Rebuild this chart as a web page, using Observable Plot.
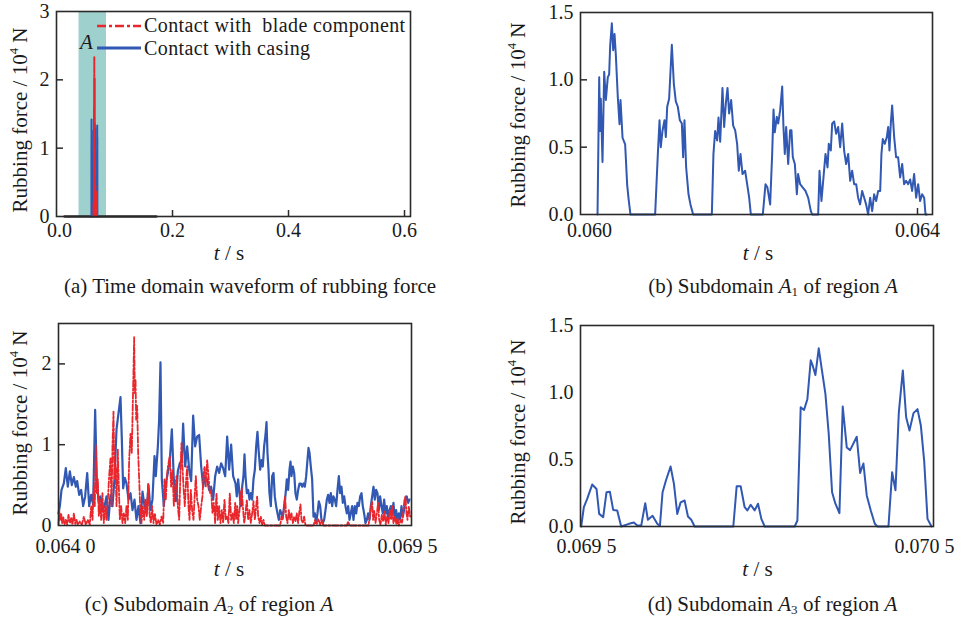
<!DOCTYPE html>
<html><head><meta charset="utf-8">
<script src="https://cdn.jsdelivr.net/npm/d3@7"></script>
<script src="https://cdn.jsdelivr.net/npm/@observablehq/plot@0.6"></script>
<style>
body{margin:0;background:#fff;}
#wrap{position:relative;width:963px;height:622px;overflow:hidden;background:#fff;font-family:"Liberation Serif",serif;color:#1a1a1a;}
#wrap svg{position:absolute;}
.lbl{position:absolute;white-space:pre;line-height:1;font-size:21px;transform:translate(-50%,-50%);}
.rot{transform:translate(-50%,-50%) rotate(-90deg);}
.abs{position:absolute;white-space:pre;line-height:1;font-size:21px;}
.leg{position:absolute;white-space:pre;line-height:1;font-size:20px;letter-spacing:0.4px;}
sup{font-size:0.6em;vertical-align:0.65em;line-height:0;}
sub{font-size:0.62em;vertical-align:-0.3em;line-height:0;}
</style>
</head><body>
<div id="wrap"></div>
<script>
// ---------------- DATA ----------------
// Panel (b): contact with casing, subdomain A1  [t (s), force (10^4 N)]
const casingA1 = [
[0.060202,0],[0.060222,1.02],[0.060233,0.62],[0.060241,0.86],[0.060261,0.39],[0.060281,1.06],[0.060301,0.85],[0.060324,1.02],[0.060340,1.04],[0.060352,1.25],[0.060372,1.42],[0.060388,1.22],[0.060404,1.34],[0.060419,1.19],[0.060443,0.87],[0.060463,0.67],[0.060475,0.85],[0.060499,0.57],[0.060530,0.52],[0.060554,0.22],[0.060570,0.12],[0.060593,0],
[0.060886,0],[0.060918,0.45],[0.060938,0.70],[0.060953,0.50],[0.060973,0.62],[0.060997,0.70],[0.061013,0.575],[0.061029,0.80],[0.061052,0.86],[0.061084,1.26],[0.061108,0.97],[0.061131,0.84],[0.061155,0.80],[0.061179,0.70],[0.061203,0.675],[0.061218,0.425],[0.061234,0.70],[0.061254,0.35],[0.061282,0.15],[0.061305,0.075],[0.061337,0],
[0.061559,0],[0.061578,0.45],[0.061598,0.62],[0.061622,0.55],[0.061638,0.72],[0.061658,0.54],[0.061685,0.94],[0.061705,0.65],[0.061725,0.825],[0.061745,0.94],[0.061764,0.75],[0.061788,0.85],[0.061812,0.66],[0.061836,0.625],[0.061859,0.525],[0.061879,0.325],[0.061899,0.45],[0.061923,0.30],[0.061954,0.325],[0.061978,0.225],[0.062002,0.125],[0.062022,0],
[0.062164,0],[0.062196,0.225],[0.062219,0.20],[0.062251,0.075],[0.062275,0.45],[0.062291,0.78],[0.062306,0.61],[0.062330,0.725],[0.062346,0.675],[0.062370,0.775],[0.062394,0.95],[0.062409,0.65],[0.062425,0.45],[0.062441,0.65],[0.062465,0.375],[0.062488,0.625],[0.062504,0.625],[0.062520,0.425],[0.062544,0.375],[0.062568,0.15],[0.062583,0.30],[0.062607,0.225],[0.062639,0.20],[0.062670,0.175],[0.062702,0.125],[0.062734,0.025],[0.062750,0],
[0.062821,0],[0.062837,0.325],[0.062860,0.10],[0.062884,0.275],[0.062908,0.45],[0.062932,0.35],[0.062947,0.525],[0.062971,0.475],[0.062987,0.675],[0.063011,0.69],[0.063034,0.60],[0.063058,0.65],[0.063082,0.50],[0.063106,0.675],[0.063129,0.475],[0.063153,0.375],[0.063177,0.45],[0.063201,0.25],[0.063224,0.325],[0.063248,0.225],[0.063272,0.225],[0.063295,0.125],[0.063319,0.075],[0.063343,0.175],[0.063367,0.125],[0.063390,0.075],[0.063414,0],[0.063438,0.125],[0.063462,0.025],[0.063485,0.15],[0.063509,0.10],[0.063533,0.175],
[0.063557,0.175],[0.063572,0.45],[0.063588,0.56],[0.063612,0.525],[0.063636,0.575],[0.063652,0.65],[0.063667,0.475],[0.063683,0.675],[0.063699,0.81],[0.063723,0.575],[0.063746,0.425],[0.063770,0.425],[0.063794,0.275],[0.063818,0.375],[0.063841,0.225],[0.063865,0.25],[0.063889,0.225],[0.063913,0.26],[0.063936,0.175],[0.063960,0.30],[0.063984,0.125],[0.064008,0.225],[0.064031,0.10],[0.064055,0.15],[0.064079,0.125],[0.064095,0],[0.064110,0]
];
// Panel (c): contact with casing, subdomain A2
const casingA2 = [
[0.064000,0.15],[0.064021,0.24],[0.064047,0.44],[0.064083,0.52],[0.064114,0.71],[0.064145,0.48],[0.064177,0.67],[0.064208,0.50],[0.064239,0.60],[0.064270,0.48],[0.064291,0.55],[0.064322,0.38],[0.064353,0.44],[0.064384,0.24],[0.064415,0.36],[0.064447,0.65],[0.064478,0.24],[0.064509,0.38],[0.064540,0.26],[0.064571,1.43],[0.064597,0.57],[0.064623,0.30],[0.064654,0.36],[0.064685,0.19],[0.064717,0.24],[0.064748,0.36],[0.064779,0.07],[0.064810,0.38],[0.064841,0.24],[0.064872,0.57],[0.064904,1.19],[0.064935,1.39],[0.064966,1.59],[0.064987,1.06],[0.065007,0.46],[0.065033,0.59],[0.065059,0.52],[0.065091,0.32],[0.065122,0.40],[0.065153,0.19],[0.065184,0.32],[0.065215,0.07],[0.065246,0.24],[0.065277,0.03],[0.065309,0.42],[0.065340,0.24],[0.065371,0.15],[0.065402,0.50],[0.065433,0.19],[0.065464,0.32],[0.065496,0.86],[0.065516,0.61],[0.065548,0.98],[0.065568,1.31],[0.065589,2.02],[0.065610,0.57],[0.065641,0.24],[0.065672,0.52],[0.065703,0.65],[0.065734,0.81],[0.065766,1.19],[0.065797,0.57],[0.065828,0.30],[0.065859,0.67],[0.065890,0.77],[0.065921,0.81],[0.065942,1.26],[0.065973,0.73],[0.066005,0.98],[0.066036,0.69],[0.066067,0.55],[0.066098,1.36],[0.066129,0.98],[0.066160,1.10],[0.066191,1.12],[0.066223,0.73],[0.066254,0.48],[0.066285,0.61],[0.066316,0.57],[0.066347,0.44],[0.066378,0.48],[0.066410,0.32],[0.066441,0.61],[0.066472,0.73],[0.066503,0.65],[0.066534,0.77],[0.066565,0.71],[0.066597,0.61],[0.066628,1.10],[0.066659,0.69],[0.066690,1.00],[0.066721,0.61],
[0.066758,0.52],[0.066778,0.36],[0.066799,0.57],[0.066820,0.40],[0.066841,0.24],[0.066862,0.48],[0.066882,0.61],[0.066898,0.88],[0.066914,0.61],[0.066934,0.40],[0.066955,0.44],[0.066976,0.32],[0.066997,0.40],[0.067017,0.32],[0.067038,0.57],[0.067059,0.69],[0.067080,0.98],[0.067100,1.16],[0.067121,0.90],[0.067142,0.69],[0.067163,0.81],[0.067183,0.73],[0.067204,0.98],[0.067225,1.12],[0.067241,1.28],[0.067256,0.90],[0.067272,0.69],[0.067287,0.40],[0.067308,0.24],[0.067329,0.61],[0.067350,0.65],[0.067370,0.36],[0.067391,0.24],[0.067412,0.15],[0.067433,0.07],[0.067454,0.19],[0.067474,0.15],[0.067495,0.11],[0.067516,0.24],[0.067537,0.38],[0.067557,0.57],[0.067578,0.44],[0.067599,0.69],[0.067615,0.79],[0.067630,0.61],[0.067651,0.73],[0.067672,0.65],[0.067692,0.40],[0.067713,0.32],[0.067734,0.44],[0.067755,0.52],[0.067776,0.52],[0.067796,0.48],[0.067817,0.52],[0.067838,0.48],[0.067859,0.61],[0.067879,0.81],[0.067895,0.96],[0.067911,0.90],[0.067931,0.73],[0.067952,0.57],[0.067973,0.11],[0.067994,0.15],[0.068014,0.03],[0.068035,0.15],[0.068056,0.30],[0.068077,0.24],[0.068097,0.07],[0.068118,0.03],[0.068139,0.07],[0.068160,0.19],[0.068181,0.32],[0.068201,0.38],[0.068222,0.28],[0.068243,0.40],[0.068264,0.24],[0.068284,0.36],[0.068305,0.32],[0.068326,0.24],[0.068347,0.44],[0.068368,0.61],[0.068388,0.40],[0.068409,0.48],[0.068430,0.28],[0.068451,0.36],[0.068471,0.24],[0.068492,0.15],[0.068513,0.24],[0.068534,0.07],[0.068554,0.15],[0.068575,0.24],[0.068596,0.07],[0.068617,0.24],[0.068638,0.15],[0.068658,0.28],[0.068679,0.24],[0.068700,0.36],[0.068721,0.40],[0.068741,0.24],[0.068762,0.15],[0.068783,0.03],[0.068804,0.07],[0.068824,0.15],[0.068845,0.07],[0.068866,0.24],[0.068887,0.36],[0.068908,0.48],[0.068928,0.32],[0.068949,0.44],[0.068970,0.40],[0.068991,0.19],[0.069011,0.36],[0.069032,0.24],[0.069053,0.15],[0.069074,0.32],[0.069095,0.15],[0.069115,0.24],[0.069136,0.07],[0.069157,0.19],[0.069178,0.24],[0.069198,0.15],[0.069219,0.28],[0.069240,0.07],[0.069261,0.19],[0.069281,0.03],[0.069302,0.15],[0.069323,0.07],[0.069344,0.24],[0.069365,0.11],[0.069385,0.19],[0.069406,0.32],[0.069427,0.36],[0.069448,0.28],[0.069468,0.32]
];
// Panel (c): contact with blade component, subdomain A2
const bladeA2 = [
[0.064000,0.01],[0.064010,0.19],[0.064026,0.07],[0.064042,0.15],[0.064057,0.03],[0.064073,0.11],[0.064093,0.01],[0.064114,0.07],[0.064135,0.01],[0.064156,0.13],[0.064177,0.03],[0.064197,0.09],[0.064218,0.01],[0.064239,0.15],[0.064260,0.02],[0.064280,0.07],[0.064301,0.01],[0.064332,0.05],[0.064364,0.01],[0.064395,0.11],[0.064426,0.01],[0.064457,0.07],[0.064488,0.01],[0.064509,0.24],[0.064530,0.07],[0.064550,0.48],[0.064566,0.24],[0.064582,1.00],[0.064597,0.40],[0.064613,0.57],[0.064628,0.11],[0.064644,0.32],[0.064665,0.07],[0.064685,0.40],[0.064706,0.03],[0.064727,0.24],[0.064748,0.07],[0.064769,0.32],[0.064789,0.61],[0.064810,0.83],[0.064826,0.24],[0.064841,0.98],[0.064857,1.41],[0.064872,0.57],[0.064888,0.73],[0.064904,0.24],[0.064924,0.94],[0.064940,0.48],[0.064956,0.07],[0.064976,0.24],[0.064997,0.03],[0.065018,0.15],[0.065039,0.03],[0.065059,0.24],[0.065080,0.07],[0.065101,0.81],[0.065122,1.14],[0.065142,0.90],[0.065158,1.52],[0.065168,1.89],[0.065179,2.33],[0.065189,1.64],[0.065200,1.81],[0.065210,1.31],[0.065226,1.48],[0.065241,0.90],[0.065257,0.57],[0.065272,0.24],[0.065293,0.03],[0.065314,0.24],[0.065335,0.07],[0.065355,0.32],[0.065376,0.11],[0.065397,0.52],[0.065418,0.15],[0.065438,0.03],[0.065459,0.24],[0.065480,0.03],[0.065501,0.15],[0.065527,0.01],[0.065553,0.07],[0.065579,0.01],[0.065605,0.11],[0.065631,0.03],[0.065651,0.57],[0.065672,0.32],[0.065693,0.65],[0.065714,0.77],[0.065734,0.86],[0.065755,0.48],[0.065776,0.69],[0.065797,0.24],[0.065818,0.48],[0.065838,0.61],[0.065859,0.24],[0.065880,0.07],[0.065901,0.69],[0.065916,1.02],[0.065932,0.73],[0.065947,0.48],[0.065968,0.24],[0.065989,0.57],[0.066005,0.73],[0.066025,0.24],[0.066041,0.07],[0.066062,0.44],[0.066082,0.19],[0.066103,0.07],[0.066124,0.40],[0.066140,0.61],[0.066160,0.32],[0.066181,0.24],[0.066202,0.07],[0.066223,0.24],[0.066243,0.36],[0.066259,0.61],[0.066275,0.73],[0.066295,0.48],[0.066316,0.81],[0.066337,0.61],[0.066358,0.40],[0.066378,0.44],[0.066399,0.15],[0.066420,0.28],[0.066441,0.03],[0.066461,0.40],[0.066482,0.07],[0.066503,0.24],[0.066524,0.03],[0.066545,0.19],[0.066565,0.03],[0.066586,0.32],[0.066607,0.07],[0.066628,0.11],[0.066648,0.03],[0.066669,0.40],[0.066690,0.07],[0.066711,0.15],[0.066732,0.03],
[0.066753,0.28],[0.066768,0.07],[0.066784,0.24],[0.066799,0.03],[0.066820,0.19],[0.066841,0.40],[0.066856,0.46],[0.066872,0.24],[0.066893,0.03],[0.066914,0.15],[0.066934,0.32],[0.066955,0.07],[0.066976,0.19],[0.066997,0.03],[0.067017,0.15],[0.067038,0.30],[0.067059,0.07],[0.067080,0.24],[0.067095,0.36],[0.067111,0.11],[0.067132,0.03],[0.067152,0.11],[0.067173,0.01],[0.067194,0.07],[0.067215,0],[0.067454,0],[0.067474,0.11],[0.067495,0.07],[0.067516,0.24],[0.067531,0.36],[0.067547,0.11],[0.067568,0.03],[0.067589,0.19],[0.067609,0.07],[0.067630,0.15],[0.067651,0.03],[0.067672,0.11],[0.067692,0.05],[0.067713,0.15],[0.067734,0.03],[0.067755,0.19],[0.067770,0.26],[0.067786,0.07],[0.067807,0.03],[0.067827,0.11],[0.067848,0],[0.067973,0],[0.067999,0.07],[0.068025,0.02],[0.068051,0.08],[0.068077,0.01],[0.068103,0.07],[0.068129,0],[0.068492,0],[0.068513,0.05],[0.068534,0],[0.068830,0],[0.068856,0.15],[0.068871,0.24],[0.068887,0.30],[0.068902,0.07],[0.068918,0.19],[0.068939,0.03],[0.068960,0.15],[0.068980,0.28],[0.068996,0.07],[0.069017,0.01],[0.069037,0.13],[0.069058,0.05],[0.069079,0.17],[0.069100,0.01],[0.069121,0.11],[0.069141,0.03],[0.069162,0.19],[0.069183,0.07],[0.069198,0.24],[0.069219,0.03],[0.069240,0.11],[0.069261,0.02],[0.069281,0.09],[0.069302,0],[0.069333,0.07],[0.069354,0.03],[0.069375,0.19],[0.069391,0.32],[0.069406,0.36],[0.069422,0.15],[0.069437,0.07],[0.069458,0.24],[0.069479,0.11]
];
// Panel (d): contact with casing, subdomain A3
const casingA3 = [
[0.0695019,0],[0.0695095,0.144],[0.0695189,0.206],[0.0695331,0.313],[0.0695454,0.28],[0.0695529,0.094],[0.0695643,0.07],[0.0695737,0.256],[0.0695832,0.26],[0.0695926,0.124],[0.0696040,0.12],[0.0696153,0],[0.0696371,0.02],[0.0696512,0.03],[0.0696607,0.007],[0.0696720,0.007],[0.0696834,0.174],[0.0696909,0.05],[0.0697042,0.08],[0.0697174,0.02],[0.0697250,0.005],[0.0697325,0.256],[0.0697420,0.343],[0.0697552,0.448],[0.0697647,0.318],[0.0697741,0.094],[0.0697836,0.18],[0.0697949,0.194],[0.0698044,0.075],[0.0698138,0.05],[0.0698233,0],
[0.0699329,0],[0.0699424,0.30],[0.0699537,0.30],[0.0699650,0.144],[0.0699726,0.12],[0.0699821,0.162],[0.0699934,0.12],[0.0700029,0.17],[0.0700123,0.057],[0.0700218,0],
[0.0701068,0],[0.0701144,0.045],[0.0701238,0.89],[0.0701333,0.87],[0.0701427,0.95],[0.0701522,1.24],[0.0701579,1.20],[0.0701654,1.13],[0.0701749,1.33],[0.0701843,1.16],[0.0701938,0.99],[0.0702032,0.69],[0.0702127,0.256],[0.0702221,0.17],[0.0702335,0.10],[0.0702429,0.895],[0.0702543,0.59],[0.0702637,0.57],[0.0702826,0.67],[0.0702921,0.40],[0.0703015,0.47],[0.0703110,0.23],[0.0703223,0.12],[0.0703337,0.02],[0.0703412,0],
[0.0703724,0],[0.0703828,0.405],[0.0703923,0.27],[0.0704017,0.85],[0.0704131,1.165],[0.0704225,0.815],[0.0704320,0.716],[0.0704433,0.846],[0.0704547,0.876],[0.0704641,0.754],[0.0704736,0.49],[0.0704830,0.057],[0.0704944,0]
];
// Panel (a): zero-force stretch of the whole record, and region A
const zeroStretch = [[0.014,0],[0.172,0]];
const regionA = [[0.0388,0.0862]];

// Tick values and labels
const xTicksA = [0, 0.2, 0.4, 0.6], xLabelsA = ["0.0","0.2","0.4","0.6"];
const yTicksA = [0, 1, 2, 3], yLabelsA = ["0","1","2","3"];
const xTicksB = [0.060, 0.064], xLabelsB = ["0.060","0.064"];
const yTicksB = [0, 0.5, 1.0, 1.5], yLabelsB = ["0.0","0.5","1.0","1.5"];
const xTicksC = [0.0640, 0.0695], xLabelsC = ["0.064 0","0.069 5"];
const yTicksC = [0, 1, 2], yLabelsC = ["0","1","2"];
const xTicksD = [0.0695, 0.0705], xLabelsD = ["0.069 5","0.070 5"];
const yTicksD = [0, 0.5, 1.0, 1.5], yLabelsD = ["0.0","0.5","1.0","1.5"];

const seriesNames = ["Contact with  blade component", "Contact with casing"];
const captions = ["(a) Time domain waveform of rubbing force",
  "(b) Subdomain <i>A</i><sub>1</sub> of region <i>A</i>",
  "(c) Subdomain <i>A</i><sub>2</sub> of region <i>A</i>",
  "(d) Subdomain <i>A</i><sub>3</sub> of region <i>A</i>"];

// ---------------- STYLE ----------------
const BLUE = "#3158b2", RED = "#e8262c", FRAME = "#2a2a2a", TEAL = "#9ed1cd";
const wrap = document.getElementById("wrap");
const toRows = (arr, part) => arr.map(([t, f]) => ({t, f, part}));

function axes(xt, xl, xdx, yt, yl, xpad) {
  const mx = new Map(xt.map((v, i) => [v, xl[i]]));
  const my = new Map(yt.map((v, i) => [v, yl[i]]));
  const m = [Plot.axisY(yt, {tickSize: 0, tickPadding: 7, tickFormat: d => my.get(d), label: null, fontSize: 20})];
  xt.forEach((v, i) => m.push(Plot.axisX([v], {tickSize: 0, tickPadding: xpad, dx: xdx[i], tickFormat: d => mx.get(d), label: null, fontSize: 20})));
  return m;
}

function panel(o) {
  const fw = o.width - o.ml - o.mr, fh = o.height - o.mt - o.mb;
  const marks = [...o.marks, Plot.frame({stroke: FRAME, strokeWidth: 1.6})];
  if (o.xInner) marks.push(Plot.tickX(o.xInner, {x: d => d, insetTop: fh - 6, stroke: FRAME, strokeWidth: 1.5}));
  if (o.yInner) marks.push(Plot.tickY(o.yInner, {y: d => d, insetRight: fw - 7, stroke: FRAME, strokeWidth: 1.5}));
  marks.push(...o.axes);
  const svg = Plot.plot({
    width: o.width, height: o.height,
    marginLeft: o.ml, marginRight: o.mr, marginTop: o.mt, marginBottom: o.mb,
    x: {domain: o.xd}, y: {domain: o.yd},
    style: {fontFamily: "Liberation Serif", fontSize: "20px", color: "#1a1a1a", background: "transparent", overflow: "visible"},
    marks
  });
  svg.style.left = o.left + "px"; svg.style.top = o.top + "px";
  wrap.appendChild(svg);
}

// Panel (a)
panel({left: 0, top: 0, width: 440, height: 260, ml: 56, mr: 30, mt: 11, mb: 44,
  xd: [0, 0.6103], yd: [0, 3],
  marks: [
    Plot.rect(regionA, {x1: d => d[0], x2: d => d[1], y1: 0, y2: 3, fill: TEAL}),
    Plot.line(zeroStretch.map(([t, f]) => ({t, f})), {x: "t", y: "f", stroke: "#333", strokeWidth: 2.6}),
    Plot.line([...toRows(casingA1, "A1"), ...toRows(casingA2, "A2"), ...toRows(casingA3, "A3")], {x: "t", y: "f", z: "part", stroke: BLUE, strokeWidth: 2}),
    Plot.line(toRows(bladeA2, "A2"), {x: "t", y: "f", stroke: RED, strokeWidth: 2, strokeDasharray: "6,2,2,2"})
  ],
  xInner: [0.2, 0.4, 0.6], yInner: [1, 2],
  axes: axes(xTicksA, xLabelsA, [3, 0, 0, 0], yTicksA, yLabelsA, 6)
});

// Panel (b)
panel({left: 500, top: 0, width: 450, height: 260, ml: 80, mr: 18, mt: 12, mb: 46,
  xd: [0.060, 0.064178], yd: [0, 1.5],
  marks: [Plot.line(toRows(casingA1, "A1"), {x: "t", y: "f", stroke: BLUE, strokeWidth: 2})],
  xInner: [0.064], yInner: [0.5, 1.0],
  axes: axes(xTicksB, xLabelsB, [9, 0], yTicksB, yLabelsB, 8)
});

// Panel (c)
panel({left: 0, top: 300, width: 440, height: 260, ml: 58, mr: 29, mt: 23, mb: 35,
  xd: [0.0640, 0.0695], yd: [0, 2.5],
  marks: [
    Plot.line(toRows(casingA2, "A2"), {x: "t", y: "f", stroke: BLUE, strokeWidth: 2.2}),
    Plot.line(toRows(bladeA2, "A2"), {x: "t", y: "f", stroke: RED, strokeWidth: 1.8, strokeDasharray: "6,2,2,2"})
  ],
  yInner: [1, 2],
  axes: axes(xTicksC, xLabelsC, [7, -4], yTicksC, yLabelsC, 13)
});

// Panel (d)
panel({left: 500, top: 300, width: 450, height: 260, ml: 80, mr: 17, mt: 25, mb: 34,
  xd: [0.0695, 0.0705], yd: [0, 1.5],
  marks: [Plot.line(toRows(casingA3, "A3"), {x: "t", y: "f", stroke: BLUE, strokeWidth: 2})],
  axes: axes(xTicksD, xLabelsD, [6, -9], yTicksD, yLabelsD, 12)
});

// ---------------- TEXT ----------------
function addText(html, cls, x, y) {
  const d = document.createElement("div");
  d.className = cls; d.innerHTML = html;
  d.style.left = x + "px"; d.style.top = y + "px";
  wrap.appendChild(d);
}
const yTitle = "Rubbing force / 10<sup>4</sup> N";
const xTitle = "<i>t</i> / s";
addText(yTitle, "lbl rot", 19.5, 119.5);
addText(yTitle, "lbl rot", 518, 114.5);
addText(yTitle, "lbl rot", 19.5, 422.5);
addText(yTitle, "lbl rot", 518, 432);
addText(xTitle, "lbl", 229, 253);
addText(xTitle, "lbl", 758, 253);
addText(xTitle, "lbl", 229, 569);
addText(xTitle, "lbl", 757.5, 569);
addText(captions[0], "lbl", 250, 285.5);
addText(captions[1], "lbl", 773, 285.5);
addText(captions[2], "lbl", 209, 604);
addText(captions[3], "lbl", 772.5, 604);

// legend of panel (a)
const leg = d3.select(wrap).append("svg").attr("width", 963).attr("height", 622).style("left", "0px").style("top", "0px");
leg.append("line").attr("x1", 97).attr("x2", 141).attr("y1", 26).attr("y2", 26).attr("stroke", RED).attr("stroke-width", 2.6).attr("stroke-dasharray", "9,3,3,3");
leg.append("line").attr("x1", 97).attr("x2", 141).attr("y1", 48).attr("y2", 48).attr("stroke", BLUE).attr("stroke-width", 3);
// line-height 1 at 20px: baseline ≈ 16.8px below the div top
addText(seriesNames[0], "leg", 144, 15.2);
addText(seriesNames[1], "leg", 144, 37.8);
addText("<i>A</i>", "abs", 80, 32);
</script>
</body></html>
